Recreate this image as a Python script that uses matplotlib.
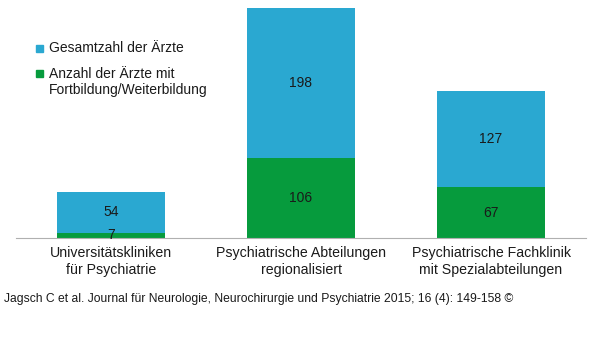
import matplotlib.pyplot as plt
from matplotlib.patches import Rectangle

plt.rcParams['font.family'] = ['Liberation Sans', 'DejaVu Sans']

# Daten
kategorien = ['Universitätskliniken\nfür Psychiatrie',
              'Psychiatrische Abteilungen\nregionalisiert',
              'Psychiatrische Fachklinik\nmit Spezialabteilungen']
fortbildung = [7, 106, 67]
gesamt = [54, 198, 127]
legende = ['Gesamtzahl der Ärzte', 'Anzahl der Ärzte mit\nFortbildung/Weiterbildung']

blau = '#2AA8D1'
gruen = '#069B3D'
W, H = 600, 348

fig = plt.figure(figsize=(6, 3.48), dpi=100)
ax = fig.add_axes([16/W, (H-238)/H, 570/W, 230/H])

x = range(len(kategorien))
ax.bar(x, fortbildung, width=0.57, color=gruen)
ax.bar(x, gesamt, width=0.57, bottom=fortbildung, color=blau)

for i in x:
    ax.text(i, fortbildung[i] / 2, str(fortbildung[i]), ha='center', va='center',
            fontsize=10, color='#1a1a1a')
    ax.text(i, fortbildung[i] + gesamt[i] / 2, str(gesamt[i]), ha='center', va='center',
            fontsize=10, color='#1a1a1a')

ax.set_xlim(-0.5, 2.5)
ax.set_ylim(0, sum([fortbildung[1], gesamt[1]]))
ax.set_yticks([])
ax.set_xticks(list(x))
ax.set_xticklabels(kategorien, fontsize=10.2, color='#1a1a1a', linespacing=1.25)
ax.tick_params(axis='x', length=0, pad=6)
for s in ['top', 'left', 'right']:
    ax.spines[s].set_visible(False)
ax.spines['bottom'].set_color('#b0b0b0')
ax.spines['bottom'].set_linewidth(0.8)

# Legende von Hand (Quadrat an der ersten Zeile)
fig.patches.append(Rectangle((36/W, 1 - 52/H), 7/W, 7/H, color=blau,
                             transform=fig.transFigure, figure=fig))
fig.patches.append(Rectangle((36/W, 1 - 77/H), 7/W, 7/H, color=gruen,
                             transform=fig.transFigure, figure=fig))
fig.text(49/W, 1 - 48/H, legende[0], fontsize=10, va='center', color='#1a1a1a')
fig.text(49/W, 1 - 82/H, legende[1], fontsize=10, va='center', color='#1a1a1a',
         linespacing=1.15)

fig.text(4/W, 1 - 299/H,
         'Jagsch C et al. Journal für Neurologie, Neurochirurgie und Psychiatrie 2015; 16 (4): 149-158 ©',
         fontsize=8.7, va='center', ha='left', color='#1a1a1a')

fig.savefig('out.png', dpi=100)
